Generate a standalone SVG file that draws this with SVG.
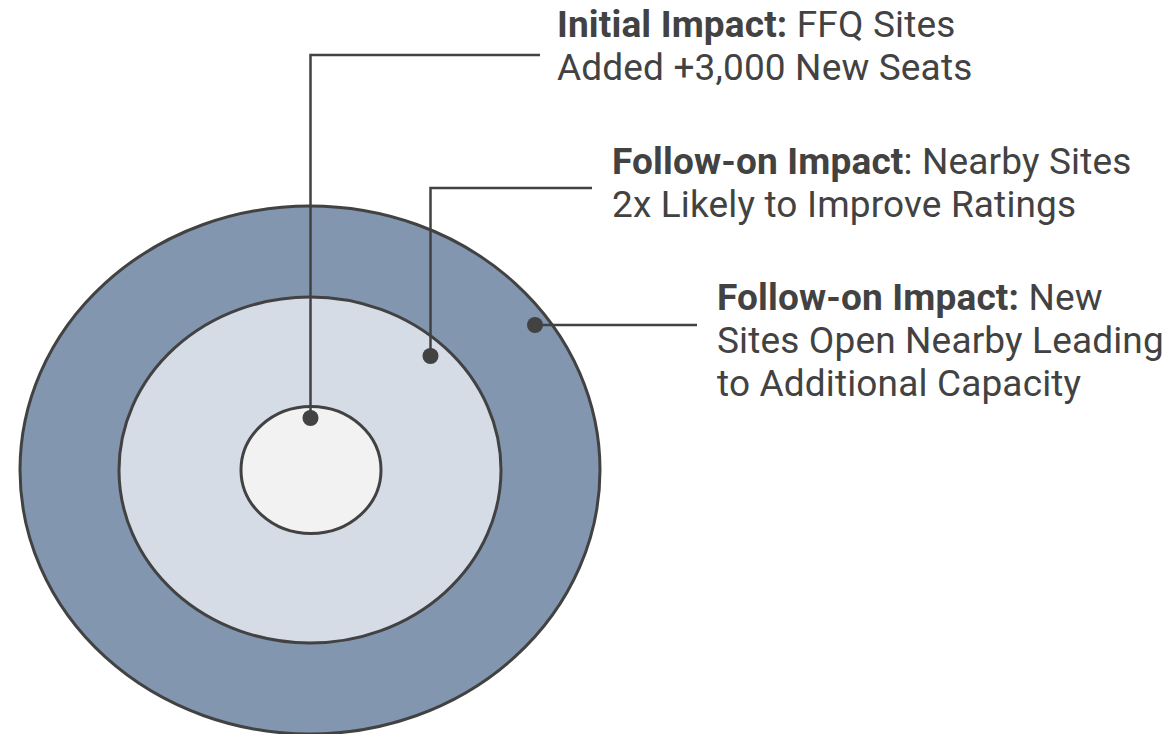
<svg xmlns="http://www.w3.org/2000/svg" width="1169" height="734" viewBox="0 0 1169 734">
<style>
.ring{stroke:#424242;stroke-width:3}
.lead{fill:none;stroke:#424242;stroke-width:2.5}
.dot{fill:#424242}
text{font-family:Roboto,"Liberation Sans",sans-serif;font-size:37px;letter-spacing:0.15px;fill:#424242}
.b{font-weight:bold}
</style>
<rect width="1169" height="734" fill="#ffffff"/>
<g id="outer"><ellipse class="ring" cx="310" cy="470" rx="290" ry="264" fill="#8296AF"/></g>
<g id="middle"><ellipse class="ring" cx="310" cy="470" rx="191" ry="173" fill="#D5DCE6"/></g>
<g id="inner"><ellipse class="ring" cx="311" cy="470" rx="70" ry="63.5" fill="#F2F2F2"/></g>
<g id="connectors">
<polyline class="lead" points="310.5,418 310.5,55 540,55"/>
<polyline class="lead" points="430.5,356 430.5,188 592,188"/>
<polyline class="lead" points="535,325 697,325"/>
<circle class="dot" cx="310.5" cy="418" r="8"/>
<circle class="dot" cx="430.5" cy="356" r="8"/>
<circle class="dot" cx="535" cy="325" r="8"/>
</g>
<g id="label1">
<text x="557" y="37"><tspan class="b">Initial Impact:</tspan> FFQ Sites</text>
<text x="557" y="80">Added +3,000 New Seats</text>
</g>
<g id="label2">
<text x="612" y="174"><tspan class="b">Follow-on Impact</tspan>: Nearby Sites</text>
<text x="612" y="217">2x Likely to Improve Ratings</text>
</g>
<g id="label3">
<text x="717" y="310"><tspan class="b">Follow-on Impact:</tspan> New</text>
<text x="717" y="353">Sites Open Nearby Leading</text>
<text x="717" y="396">to Additional Capacity</text>
</g>
</svg>
